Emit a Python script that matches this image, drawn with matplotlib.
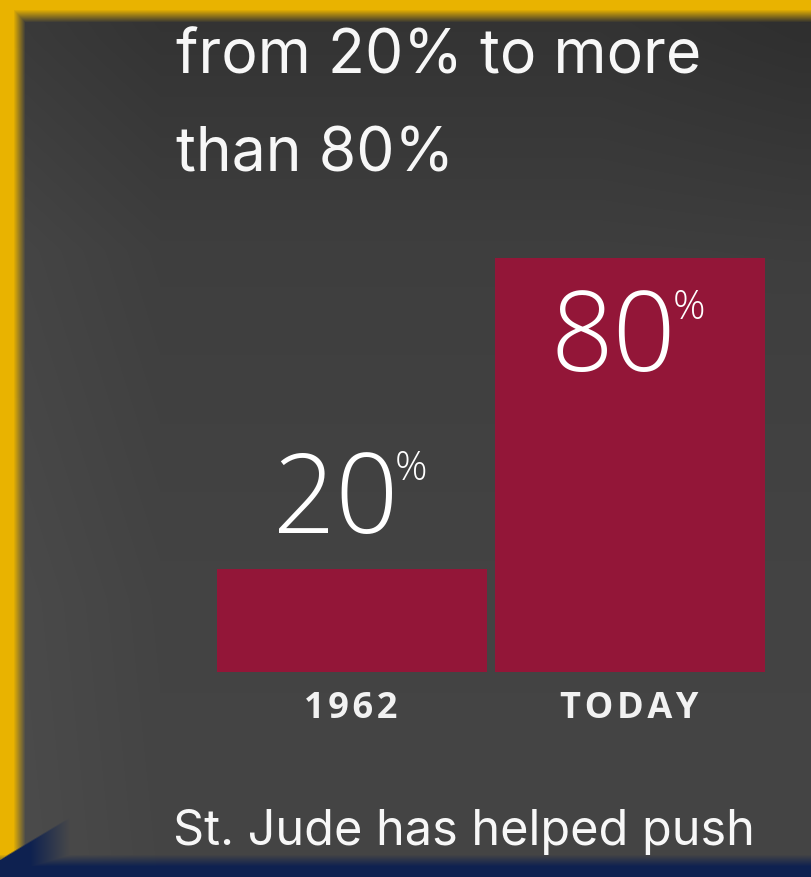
import numpy as np
import matplotlib
matplotlib.use("Agg")
import matplotlib.pyplot as plt

# ---- data ----
categories = ["1962", "TODAY"]
values = [20, 80]
value_labels = ["20", "80"]
title_lines = ["from 20% to more", "than 80%"]
footer_text = "St. Jude has helped push"

W, H, DPI = 811, 877, 100
BAR_COLOR = "#931638"
YELLOW = np.array([233, 179, 0]) / 255
NAVY = np.array([14, 33, 80]) / 255

fig = plt.figure(figsize=(W / DPI, H / DPI), dpi=DPI)

# ---- background (decoration) ----
yy, xx = np.mgrid[0:H, 0:W].astype(float)
g = np.interp(yy, [0, 40, 250, 600, 877], [0.20, 0.205, 0.245, 0.265, 0.27])
g = g + 0.025 * np.clip((160 - xx) / 140, 0, 1) - 0.02 * np.clip((xx - 600) / 200, 0, 1) * np.clip((300 - yy) / 300, 0, 1)
img = np.dstack([g, g, g])
a_left = np.clip((25 - xx) / 12, 0, 1)
a_top = np.clip((22 - yy) / 13, 0, 1)
a_y = np.maximum(a_left, a_top)[..., None]
img = img * (1 - a_y) + YELLOW * a_y
a_nav = np.clip((yy - 854) / 12, 0, 1)
a_corner = np.clip((yy - (858 - 0.6 * xx)) / 2, 0, 1) * np.clip((70 - xx) / 40, 0, 1)
a_n = np.maximum(a_nav, a_corner)[..., None]
img = img * (1 - a_n) + NAVY * a_n

bg = fig.add_axes([0, 0, 1, 1])
bg.imshow(img, extent=(0, W, H, 0), aspect="auto", interpolation="bilinear")
bg.set_xlim(0, W)
bg.set_ylim(H, 0)
bg.axis("off")

# ---- title & footer text ----
tfont = dict(family=["Inter", "DejaVu Sans"], color="#f7f7f7")
fig.text(176 / W, 1 - 73 / H, title_lines[0], fontsize=43.7, va="baseline", ha="left", **tfont)
fig.text(176 / W, 1 - 171 / H, title_lines[1], fontsize=43.7, va="baseline", ha="left", **tfont)
fig.text(173 / W, 1 - 845 / H, footer_text, fontsize=35, va="baseline", ha="left", **tfont)

# ---- bars ----
left_px, right_px, top_px, bot_px = 217, 765, 258, 672
ax = fig.add_axes([left_px / W, 1 - bot_px / H, (right_px - left_px) / W, (bot_px - top_px) / H])
x = np.arange(len(categories))
ax.bar(x, values, width=270 / 278, color=BAR_COLOR)
ax.set_xlim(-0.4856, 1.4856)
ax.set_ylim(0, max(values))
ax.axis("off")
ax.patch.set_alpha(0)

px_per_pt = DPI / 72
vfont = dict(family=["Open Sans", "DejaVu Sans"], fontweight="light", color="white")
for i, (v, lab) in enumerate(zip(values, value_labels)):
    if v < 50:
        dy = 36 / px_per_pt    # baseline above bar top
    else:
        dy = -113 / px_per_pt  # baseline inside bar
    ax.annotate(lab, (i, v), xytext=(46 / px_per_pt, dy), textcoords="offset points",
                ha="right", va="baseline", fontsize=79, **vfont, annotation_clip=False)
    ax.annotate("%", (i, v), xytext=(43 / px_per_pt, dy + 52 / px_per_pt), textcoords="offset points",
                ha="left", va="baseline", fontsize=29, **vfont, annotation_clip=False)
    ax.annotate("\u200a".join(categories[i]), (i, 0), xytext=(-1 / px_per_pt, -46 / px_per_pt),
                textcoords="offset points", ha="center", va="baseline", fontsize=26,
                fontweight="bold", family=["Open Sans", "DejaVu Sans"], color="#f2f2f2",
                annotation_clip=False)

fig.savefig("out.png", dpi=DPI)
